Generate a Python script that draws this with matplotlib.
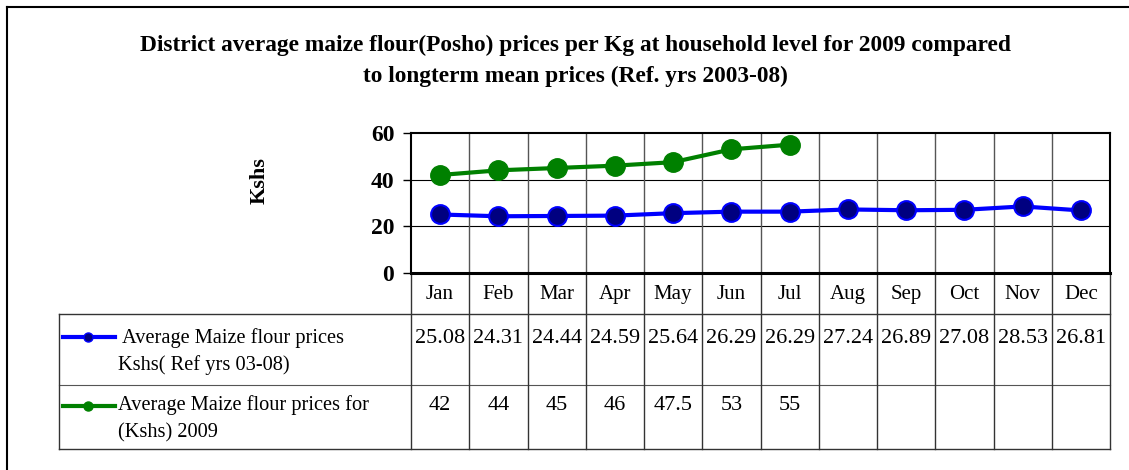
import numpy as np
import matplotlib.pyplot as plt

# Datos de la grafica
months = ['Jan', 'Feb', 'Mar', 'Apr', 'May', 'Jun', 'Jul', 'Aug', 'Sep', 'Oct', 'Nov', 'Dec']
ref_prices = [25.08, 24.31, 24.44, 24.59, 25.64, 26.29, 26.29, 27.24, 26.89, 27.08, 28.53, 26.81]
prices_2009 = [42, 44, 45, 46, 47.5, 53, 55]
ref_label = ' Average Maize flour prices\nKshs( Ref yrs 03-08)'
label_2009 = 'Average Maize flour prices for\n(Kshs) 2009'
title = ('District average maize flour(Posho) prices per Kg at household level for 2009 compared\n'
         'to longterm mean prices (Ref. yrs 2003-08)')

W, H = 1129, 470
plt.rcParams['font.family'] = ['Liberation Serif', 'DejaVu Serif']

fig = plt.figure(figsize=(W / 100, H / 100), dpi=100)

# Capa de fondo en pixeles para marco y tabla
bg = fig.add_axes([0, 0, 1, 1])
bg.set_xlim(0, W)
bg.set_ylim(H, 0)
bg.axis('off')

# Marco exterior
bg.plot([7, W], [7, 7], color='black', lw=1.5)
bg.plot([7, 7], [7, H], color='black', lw=1.5)

bg.text(575, 61, title, ha='center', va='center', fontsize=16.8, fontweight='bold',
        linespacing=1.6)

# Area del grafico
left, right, top, bottom = 411, 1110, 133, 273
ax = fig.add_axes([left / W, 1 - bottom / H, (right - left) / W, (bottom - top) / H])
x = np.arange(len(months))
ax.plot(x, ref_prices, color='#0000FF', lw=3, marker='o', ms=13.5,
        mfc='#000080', mec='#0000FF', mew=1.5, zorder=3)
ax.plot(np.arange(len(prices_2009)), prices_2009, color='#008000', lw=3, marker='o',
        ms=14, mfc='#008000', mec='#008000', zorder=3)
ax.set_xlim(-0.5, len(months) - 0.5)
ax.set_ylim(0, 60)
ax.set_yticks([0, 20, 40, 60])
ax.set_xticks([])
for v in [20, 40]:
    ax.axhline(v, color='black', lw=0.8, zorder=1)
for i in range(1, len(months)):
    ax.axvline(i - 0.5, color='#555555', lw=1, zorder=1)
for s in ax.spines.values():
    s.set_linewidth(1.5)
ax.spines['bottom'].set_linewidth(2.2)
ax.tick_params(axis='y', length=6, width=1, pad=6, labelsize=17)
for lab in ax.get_yticklabels():
    lab.set_fontweight('bold')
ax.set_ylabel('Kshs', fontsize=16, fontweight='bold')
ax.yaxis.set_label_coords((270 - left) / (right - left), 1 - (181 - top) / (bottom - top))

# Tabla de datos
col_w = (right - left) / len(months)
t_left, row0, row1, row2, row3 = 59, 273, 314, 385, 449
lc = '#333333'
bg.plot([t_left, right], [row1, row1], color=lc, lw=1)
bg.plot([t_left, right], [row2, row2], color='#555555', lw=0.8)
bg.plot([t_left, right], [row3, row3], color=lc, lw=1)
bg.plot([t_left, t_left], [row1, row3], color=lc, lw=1)
for i in range(len(months) + 1):
    xx = left + i * col_w
    bg.plot([xx, xx], [row0, row3], color=lc, lw=1)

for i, m in enumerate(months):
    cx = left + (i + 0.5) * col_w
    bg.text(cx, 299, m, ha='center', va='baseline', fontsize=15)
    bg.text(cx, 343, f'{ref_prices[i]:.2f}', ha='center', va='baseline', fontsize=16)
    if i < len(prices_2009):
        bg.text(cx, 410, f'{prices_2009[i]:g}', ha='center', va='baseline', fontsize=16)

# Claves de leyenda
bg.plot([63, 115], [337, 337], color='#0000FF', lw=3)
bg.plot([88], [337], 'o', ms=6.5, mfc='#000080', mec='#0000FF')
bg.plot([63, 115], [406, 406], color='#008000', lw=3)
bg.plot([88], [406], 'o', ms=6.5, color='#008000')
for label, baselines in [(ref_label, [343, 370]), (label_2009, [410, 437])]:
    for line, yb in zip(label.split('\n'), baselines):
        bg.text(118, yb, line, ha='left', va='baseline', fontsize=14.7)

fig.savefig('out.png', dpi=100)
